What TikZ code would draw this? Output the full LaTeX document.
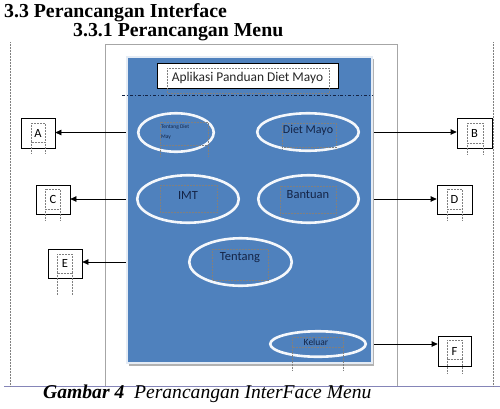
\documentclass[tikz,border=0pt]{standalone}
\usepackage{fontspec}
\setmainfont{Liberation Serif}
\newfontfamily\calfont{Carlito}
\usetikzlibrary{shapes.geometric,arrows.meta}
\pgfdeclarelayer{bg}
\pgfsetlayers{bg,main}
\definecolor{officeblue}{RGB}{79,129,189}
\definecolor{navytext}{RGB}{20,36,70}
\definecolor{framegray}{RGB}{166,166,166}
\newcommand\txbox[5]{\draw[tbx] (#1,#3) rectangle (#2,#4); \draw[tbx] (#1,#4) -- (#1,#5) (#2,#4) -- (#2,#5);}
\begin{document}
\begin{tikzpicture}[x=1pt,y=-1pt,
  oval/.style={ellipse, draw=white!94!officeblue, line width=2.6pt, fill=officeblue, inner sep=0pt},
  letterbox/.style={rectangle, draw=black, line width=0.7pt, fill=white, inner sep=0pt, font=\calfont\fontsize{12.5}{14}\selectfont},
  menutext/.style={font=\calfont\fontsize{12.5}{14}\selectfont, text=navytext, inner sep=0pt},
  tbx/.style={densely dotted, line width=0.5pt, black!50},
  link/.style={line width=0.7pt, -{Triangle[length=6pt,width=5.5pt]}},
  heading/.style={font=\bfseries\fontsize{19.8}{22}\selectfont, inner sep=0pt, anchor=base west}]
\useasboundingbox (0,0) rectangle (500,408);

% headings and caption
\node[heading] (h1) at (4,17) {3.3 Perancangan Interface};
\node[heading] (h2) at (73,36) {3.3.1 Perancangan Menu};
\node[inner sep=0pt, anchor=base west, font=\itshape\fontsize{19.6}{22}\selectfont] (cap) at (43,398) {\textbf{Gambar 4}\ \ Perancangan InterFace Menu};

% blue screen
\fill[black!30] (129,59) rectangle (374,366);
\draw[fill=officeblue, draw=white!85!officeblue, line width=1.5pt] (127,57) rectangle (372,363);
\draw[navytext, line width=0.8pt, dash dot] (122,95) -- (372,95);

% title box
\node[draw=black, line width=0.6pt, fill=white, minimum width=181pt, minimum height=25pt, inner sep=0pt] (title) at (247.5,75.5) {};
\node[inner sep=0pt, font=\calfont\fontsize{13.4}{15}\selectfont, text=black!85] (titletext) at (247.5,78) {Aplikasi Panduan Diet Mayo};
\txbox{167}{329}{68}{93}{93}

% ellipses
\node[oval, minimum width=75.5pt, minimum height=38.5pt] (tdm) at (176,132.5) {};
\node[oval, minimum width=101.5pt, minimum height=37.5pt] (dm) at (308,132) {};
\node[oval, minimum width=101.5pt, minimum height=47.5pt] (imt) at (188,199) {};
\node[oval, minimum width=100.5pt, minimum height=47.5pt] (ban) at (308.5,199) {};
\node[oval, minimum width=102.5pt, minimum height=47.5pt] (ten) at (240.5,262) {};
\node[oval, minimum width=95.5pt, minimum height=25.5pt] (kel) at (318,344) {};

\node[inner sep=0pt, anchor=north west, align=left, text=navytext, font=\calfont\fontsize{5.5}{9.5}\selectfont] (tdmtext) at (161,125) {Tentang Diet\\May};
\node[menutext, font=\calfont\fontsize{12}{14}\selectfont] (dmtext) at (308,130) {Diet Mayo};
\node[menutext] (imttext) at (188,195) {IMT};
\node[menutext] (bantext) at (308,195) {Bantuan};
\node[menutext] (tentext) at (240,258) {Tentang};
\node[menutext, font=\calfont\fontsize{9.5}{11}\selectfont] (keltext) at (316,342) {Keluar};

\txbox{160}{208}{122}{145}{157}
\txbox{282}{336}{123}{147}{150}
\txbox{160}{217}{185}{212}{212}
\txbox{280}{336}{186}{213}{215}
\txbox{212}{268}{249}{280}{280}
\txbox{292}{343}{337}{347}{370}

% letter boxes
\node[letterbox, minimum width=34pt, minimum height=30pt] (A) at (38,133) {A};
\node[letterbox, minimum width=35pt, minimum height=30pt] (B) at (474.5,133) {B};
\node[letterbox, minimum width=34pt, minimum height=29pt] (C) at (53,199.5) {C};
\node[letterbox, minimum width=35pt, minimum height=29pt] (D) at (454.5,199.5) {D};
\node[letterbox, minimum width=34pt, minimum height=29pt] (E) at (65,263.5) {E};
\node[letterbox, minimum width=33pt, minimum height=30pt] (F) at (454.5,351) {F};

\txbox{31}{45}{123}{142}{153}
\txbox{467}{483}{123}{143}{154}
\txbox{45}{60}{189}{209}{221}
\txbox{447}{462}{189}{209}{221}
\txbox{57}{72}{254}{273}{295}
\txbox{447}{462}{340}{359}{373}

\begin{pgfonlayer}{bg}
  \draw[framegray, line width=1pt] (105,44) -- (397,44) (105,44) -- (105,386) (397,44) -- (397,386);
  \draw[framegray!80!blue, line width=0.8pt] (4,386) -- (500,386);
  \draw[black!50, densely dotted, line width=0.5pt] (10,42) -- (10,386) (493,42) -- (493,386);
  \draw[link] (tdm.west) -- (tdm.west -| A.east);
  \draw[link] (dm.east) -- (dm.east -| B.west);
  \draw[link] (imt.west) -- (imt.west -| C.east);
  \draw[link] (ban.east) -- (ban.east -| D.west);
  \draw[link] (ten.west) -- (ten.west -| E.east);
  \draw[link] (kel.east) -- (kel.east -| F.west);
\end{pgfonlayer}
\end{tikzpicture}
\end{document}
